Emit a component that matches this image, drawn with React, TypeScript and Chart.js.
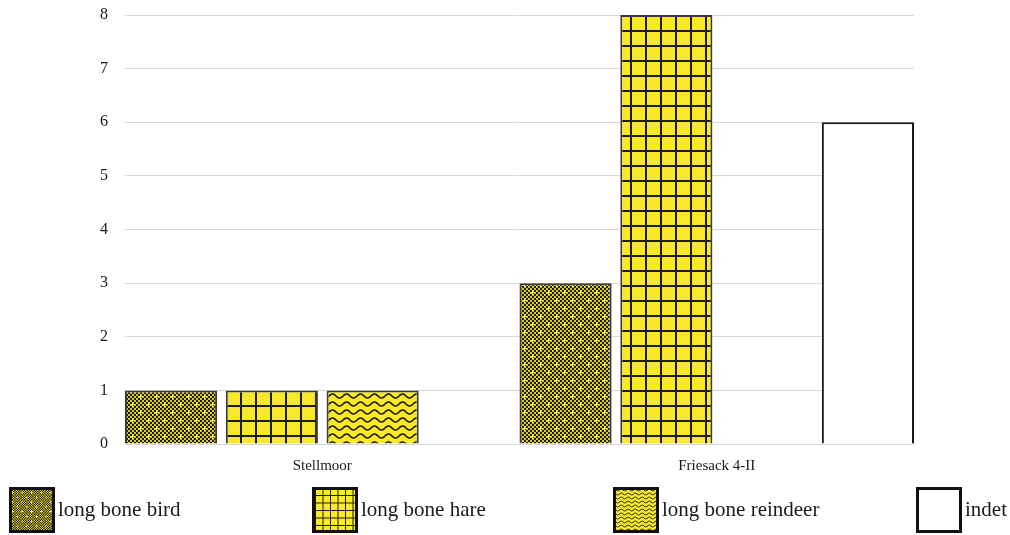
import React, { useEffect, useRef } from "react";
import { Chart, registerables } from "chart.js";

Chart.register(...registerables);

// ---- data ----
const categories = ["Stellmoor", "Friesack 4-II"];
const seriesNames = ["long bone bird", "long bone hare", "long bone reindeer", "indet"];
const birdValues = [1, 3];
const hareValues = [1, 8];
const reindeerValues = [1, 0];
const indetValues = [0, 6];
const yMin = 0;
const yMax = 8;
const yStep = 1;

const YELLOW = "#f8ea2b";
const INK = "#1c1c1c";

function makeTile(w: number, h: number, draw: (c: CanvasRenderingContext2D) => void) {
  const cv = document.createElement("canvas");
  cv.width = w;
  cv.height = h;
  const c = cv.getContext("2d")!;
  draw(c);
  return cv;
}

function birdTile() {
  return makeTile(16, 16, (c) => {
    c.fillStyle = "#d9cc22";
    c.fillRect(0, 0, 16, 16);
    c.fillStyle = INK;
    for (let i = 0; i < 8; i++)
      for (let j = 0; j < 8; j++)
        if ((i + j) % 2 === 0) c.fillRect(i * 2, j * 2, 2, 2);
    c.fillStyle = "#fff23a";
    const plus = (x: number, y: number) => {
      c.fillRect(x - 2, y, 5, 1);
      c.fillRect(x, y - 2, 1, 5);
    };
    plus(4, 4);
    plus(12, 12);
  });
}

function hareTile() {
  return makeTile(15, 15, (c) => {
    c.fillStyle = YELLOW;
    c.fillRect(0, 0, 15, 15);
    c.fillStyle = INK;
    c.fillRect(0, 0, 2, 15);
    c.fillRect(0, 0, 15, 2);
  });
}

function reindeerTile() {
  return makeTile(14, 8, (c) => {
    c.fillStyle = YELLOW;
    c.fillRect(0, 0, 14, 8);
    c.strokeStyle = INK;
    c.lineWidth = 1.6;
    c.beginPath();
    for (let x = -1; x <= 15; x += 0.5) {
      const y = 4 + 2 * Math.sin((x / 14) * Math.PI * 2);
      if (x === -1) c.moveTo(x, y);
      else c.lineTo(x, y);
    }
    c.stroke();
  });
}

export default function App() {
  const ref = useRef<HTMLCanvasElement | null>(null);

  useEffect(() => {
    const canvas = ref.current;
    if (!canvas) return;
    const ctx = canvas.getContext("2d")!;
    const birdP = ctx.createPattern(birdTile(), "repeat")!;
    const hareP = ctx.createPattern(hareTile(), "repeat")!;
    const reinP = ctx.createPattern(reindeerTile(), "repeat")!;

    const mkSmall = (tile: HTMLCanvasElement, s: number) => {
      const p = ctx.createPattern(tile, "repeat")!;
      try {
        p.setTransform(new DOMMatrix().scale(s));
      } catch (e) {}
      return p;
    };
    const legendFills: (CanvasPattern | string)[] = [
      mkSmall(birdTile(), 0.6),
      mkSmall(hareTile(), 0.5),
      mkSmall(reindeerTile(), 0.5),
      "#ffffff",
    ];

    const bw = (c: any) => (c.raw === 0 ? 0 : 2);

    const legendPlugin = {
      id: "customLegend",
      afterDraw(chart: any) {
        const g = chart.ctx as CanvasRenderingContext2D;
        const boxX = [9, 312, 613, 916];
        const boxY = 487;
        const bwid = 46;
        const bhei = 46;
        g.save();
        seriesNames.forEach((name, i) => {
          g.fillStyle = legendFills[i] as any;
          g.fillRect(boxX[i], boxY, bwid, bhei);
          g.lineWidth = 3;
          g.strokeStyle = "#111";
          g.strokeRect(boxX[i] + 1.5, boxY + 1.5, bwid - 3, bhei - 3);
          g.fillStyle = "#1a1a1a";
          g.font = "21px 'Liberation Serif'";
          g.textBaseline = "middle";
          g.textAlign = "left";
          g.fillText(name, boxX[i] + bwid + 3, boxY + bhei / 2);
        });
        g.restore();
      },
    };

    const chart = new Chart(canvas, {
      type: "bar",
      data: {
        labels: categories,
        datasets: [
          { label: seriesNames[0], data: birdValues, backgroundColor: birdP as any, borderColor: "#3a3a3a", borderWidth: bw },
          { label: seriesNames[1], data: hareValues, backgroundColor: hareP as any, borderColor: "#3a3a3a", borderWidth: bw },
          { label: seriesNames[2], data: reindeerValues, backgroundColor: reinP as any, borderColor: "#3a3a3a", borderWidth: bw },
          { label: seriesNames[3], data: indetValues, backgroundColor: "#ffffff", borderColor: "#1a1a1a", borderWidth: bw },
        ],
      },
      options: {
        responsive: false,
        animation: false,
        devicePixelRatio: 1,
        layout: { padding: { left: 0, right: 96, top: 15, bottom: 56 } },
        datasets: {
          bar: { categoryPercentage: 1.022, barPercentage: 0.914 },
        },
        plugins: {
          legend: { display: false },
          tooltip: { enabled: false },
        },
        scales: {
          x: {
            grid: { display: false, drawTicks: false },
            border: { display: false },
            ticks: {
              padding: 13,
              color: "#1a1a1a",
              font: { family: "'Liberation Serif'", size: 15 },
            },
            afterFit: (s: any) => {
              s.height = 35;
              s.paddingLeft = 0;
              s.paddingRight = 0;
            },
          },
          y: {
            min: yMin,
            max: yMax,
            ticks: {
              stepSize: yStep,
              padding: 17,
              color: "#1a1a1a",
              font: { family: "'Liberation Serif'", size: 16 },
            },
            grid: { color: "#d9d9d9", lineWidth: 1, drawTicks: false },
            border: { display: false },
            afterFit: (s: any) => {
              s.width = 125;
              s.paddingTop = 0;
              s.paddingBottom = 0;
            },
          },
        },
      },
      plugins: [legendPlugin],
    });

    return () => chart.destroy();
  }, []);

  return (
    <div style={{ position: "fixed", left: 0, top: 0, width: 1010, height: 535, background: "#fff" }}>
      <canvas ref={ref} width={1010} height={535} style={{ display: "block" }} />
    </div>
  );
}
